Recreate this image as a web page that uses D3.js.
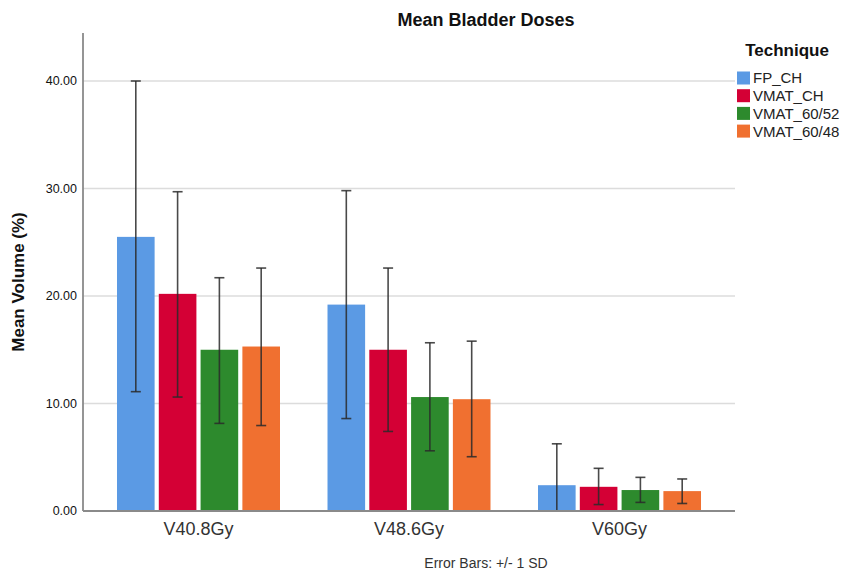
<!DOCTYPE html>
<html>
<head>
<meta charset="utf-8">
<script src="https://cdn.jsdelivr.net/npm/d3@7"></script>
<style>
  body { margin: 0; background: #fff; }
  text { font-family: "Liberation Sans", Arial, sans-serif; fill: #111; }
</style>
</head>
<body>
<svg id="chart" width="846" height="572"></svg>
<script>
// chart data
const doseLevels = ["V40.8Gy", "V48.6Gy", "V60Gy"];
const techniques = ["FP_CH", "VMAT_CH", "VMAT_60/52", "VMAT_60/48"];
const colors = ["#5b9ae4", "#d40035", "#2d8a2d", "#f07030"];
// mean volume per technique, one entry per dose level
const meanFP = [25.5, 19.2, 2.4];
const meanVmatCH = [20.2, 15.0, 2.25];
const meanVmat5260 = [15.0, 10.6, 1.95];
const meanVmat4860 = [15.3, 10.4, 1.85];
// error bar ends (+/- 1 SD)
const lowFP = [11.1, 8.6, 0.0];
const highFP = [40.0, 29.8, 6.25];
const lowVmatCH = [10.6, 7.4, 0.6];
const highVmatCH = [29.7, 22.6, 3.97];
const lowVmat5260 = [8.15, 5.6, 0.8];
const highVmat5260 = [21.7, 15.65, 3.13];
const lowVmat4860 = [7.95, 5.05, 0.7];
const highVmat4860 = [22.6, 15.8, 2.98];
const yTicks = [0, 10, 20, 30, 40];

const means = [meanFP, meanVmatCH, meanVmat5260, meanVmat4860];
const lows = [lowFP, lowVmatCH, lowVmat5260, lowVmat4860];
const highs = [highFP, highVmatCH, highVmat5260, highVmat4860];

const svg = d3.select("#chart");
const plot = { left: 83, right: 735, top: 33, bottom: 511 };

const x0 = d3.scaleBand()
    .domain(doseLevels)
    .range([plot.left, plot.right])
    .paddingInner(0.2257)
    .paddingOuter(0.1615);

const x1 = d3.scaleBand()
    .domain(techniques)
    .range([0, x0.bandwidth()])
    .paddingInner(0.1);

const y = d3.scaleLinear()
    .domain([0, 40])
    .range([plot.bottom, 81]);

// grid lines
svg.append("g")
    .selectAll("line")
    .data(yTicks.filter(d => d > 0))
    .join("line")
    .attr("x1", plot.left)
    .attr("x2", plot.right)
    .attr("y1", d => y(d))
    .attr("y2", d => y(d))
    .attr("stroke", "#dcdcdc")
    .attr("stroke-width", 1.5);

// y tick labels
svg.append("g")
    .selectAll("text")
    .data(yTicks)
    .join("text")
    .attr("x", 77)
    .attr("y", d => y(d))
    .attr("dy", "0.35em")
    .style("text-anchor", "end")
    .style("font-size", "12.5px")
    .text(d => d3.format(".2f")(d));

// bars
const rows = [];
doseLevels.forEach((lvl, i) => {
    techniques.forEach((t, j) => {
        rows.push({ lvl, t, j, mean: means[j][i], lo: lows[j][i], hi: highs[j][i] });
    });
});

const barG = svg.append("g");
barG.selectAll("rect")
    .data(rows)
    .join("rect")
    .attr("x", d => x0(d.lvl) + x1(d.t))
    .attr("y", d => y(d.mean))
    .attr("width", x1.bandwidth())
    .attr("height", d => y(0) - y(d.mean))
    .attr("fill", d => colors[d.j]);

// error bars
const errG = svg.append("g")
    .attr("stroke", "#2a2a2a")
    .attr("stroke-width", 1.6)
    .attr("stroke-opacity", 0.85);

rows.forEach(d => {
    const cx = x0(d.lvl) + x1(d.t) + x1.bandwidth() / 2;
    errG.append("line")
        .attr("x1", cx).attr("x2", cx)
        .attr("y1", y(d.lo)).attr("y2", y(d.hi));
    [d.lo, d.hi].forEach(v => {
        errG.append("line")
            .attr("x1", cx - 5).attr("x2", cx + 5)
            .attr("y1", y(v)).attr("y2", y(v));
    });
});

// axes lines
svg.append("line")
    .attr("x1", plot.left).attr("x2", plot.left)
    .attr("y1", plot.top).attr("y2", plot.bottom)
    .attr("stroke", "#8a8a8a").attr("stroke-width", 1.8);
svg.append("line")
    .attr("x1", plot.left).attr("x2", plot.right)
    .attr("y1", plot.bottom).attr("y2", plot.bottom)
    .attr("stroke", "#8a8a8a").attr("stroke-width", 1.8);

// x labels
svg.append("g")
    .selectAll("text")
    .data(doseLevels)
    .join("text")
    .attr("x", d => x0(d) + x0.bandwidth() / 2)
    .attr("y", 535)
    .style("text-anchor", "middle")
    .style("font-size", "18px")
    .style("fill", "#333")
    .text(d => d);

// title
svg.append("text")
    .attr("x", 486)
    .attr("y", 26)
    .style("text-anchor", "middle")
    .style("font-size", "18px")
    .style("font-weight", "bold")
    .text("Mean Bladder Doses");

// y axis label
svg.append("text")
    .attr("transform", "translate(24,282) rotate(-90)")
    .style("text-anchor", "middle")
    .style("font-size", "17px")
    .style("font-weight", "bold")
    .text("Mean Volume (%)");

// footnote
svg.append("text")
    .attr("x", 486)
    .attr("y", 568)
    .style("text-anchor", "middle")
    .style("font-size", "14px")
    .style("fill", "#333")
    .text("Error Bars: +/- 1 SD");

// legend
const legend = svg.append("g").attr("transform", "translate(737,0)");
legend.append("text")
    .attr("x", 50)
    .attr("y", 56)
    .style("text-anchor", "middle")
    .style("font-size", "17px")
    .style("font-weight", "bold")
    .text("Technique");

const item = legend.selectAll("g.item")
    .data(techniques)
    .join("g")
    .attr("class", "item")
    .attr("transform", (d, i) => "translate(0," + (78 + i * 17.7) + ")");
item.append("rect")
    .attr("x", 0).attr("y", -6.5)
    .attr("width", 13).attr("height", 13)
    .attr("fill", (d, i) => colors[i]);
item.append("text")
    .attr("x", 16)
    .attr("dy", "0.36em")
    .style("font-size", "15px")
    .style("fill", "#222")
    .text(d => d);
</script>
</body>
</html>
